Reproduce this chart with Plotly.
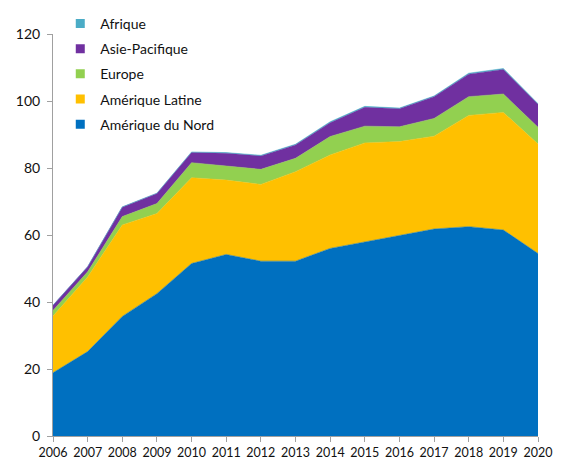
import plotly.graph_objects as go

years = list(range(2006, 2021))
amerique_nord = [18.9, 25.2, 35.7, 42.5, 51.5, 54.2, 52.2, 52.2, 56.0, 58.0, 59.8, 61.8, 62.5, 61.5, 54.5]
amerique_latine = [16.9, 22.3, 27.3, 23.9, 25.6, 22.2, 22.9, 26.7, 27.9, 29.5, 28.1, 27.7, 33.2, 35.1, 32.7]
europe = [1.7, 1.5, 2.5, 3.0, 4.5, 4.3, 4.5, 4.0, 5.5, 5.0, 4.4, 5.3, 5.6, 5.5, 5.0]
asie_pacifique = [1.5, 1.5, 2.8, 3.0, 3.0, 3.7, 4.0, 4.0, 4.1, 5.6, 5.4, 6.5, 6.7, 7.3, 6.8]
afrique = [0.05, 0.05, 0.1, 0.1, 0.2, 0.2, 0.2, 0.2, 0.3, 0.3, 0.2, 0.2, 0.3, 0.3, 0.2]

series = [
    ("Amérique du Nord", amerique_nord, "#0070C0"),
    ("Amérique Latine", amerique_latine, "#FFC000"),
    ("Europe", europe, "#92D050"),
    ("Asie-Pacifique", asie_pacifique, "#7030A0"),
    ("Afrique", afrique, "#4BACC6"),
]

fig = go.Figure()
for i, (name, vals, col) in enumerate(series):
    fig.add_trace(go.Scatter(
        x=years, y=vals, name=name, mode="lines",
        stackgroup="one", line=dict(width=0.5, color=col),
        fillcolor=col, showlegend=False,
    ))
# legend entries (square swatches)
for i, (name, vals, col) in enumerate(series):
    fig.add_trace(go.Scatter(
        x=[None], y=[None], name=name, mode="markers",
        marker=dict(symbol="square", size=9, color=col),
        legendgroup=f"g{i}", legendrank=10 - i, showlegend=True,
    ))

font = "Lato, 'Open Sans', sans-serif"
fig.update_layout(
    width=576, height=475,
    margin=dict(l=45, r=46, t=26, b=47, autoexpand=False),
    paper_bgcolor="white", plot_bgcolor="white",
    font=dict(family=font, size=13, color="#111"),
    legend=dict(
        x=0.015, y=1.065, xanchor="left", yanchor="top",
        traceorder="grouped", tracegroupgap=4, itemwidth=30,
        font=dict(size=14, family=font, color="#111"),
        bgcolor="rgba(0,0,0,0)",
    ),
    xaxis=dict(
        range=[2006, 2020], tickmode="array", tickvals=years,
        ticktext=[str(y) for y in years],
        showgrid=False, zeroline=False, showline=True,
        linecolor="#A0A0A0", linewidth=1, ticks="outside",
        tickcolor="#A0A0A0", ticklen=5, tickfont=dict(size=12.5, color="#111"),
    ),
    yaxis=dict(
        range=[0, 120], tickvals=[0, 20, 40, 60, 80, 100, 120],
        showgrid=False, zeroline=False, showline=True,
        linecolor="#A0A0A0", linewidth=1, ticks="outside",
        tickcolor="#A0A0A0", ticklen=5, ticklabelstandoff=4,
        tickfont=dict(size=14, color="#111"),
    ),
)

fig.write_html("out.html")
